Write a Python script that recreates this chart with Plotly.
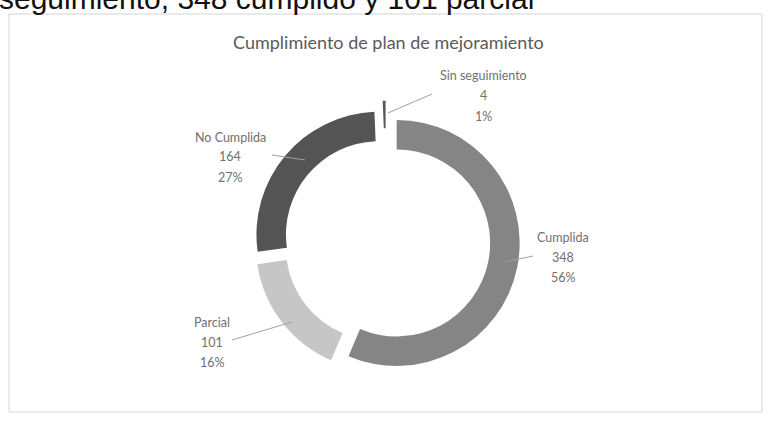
import plotly.graph_objects as go

# Data
categories = ["Cumplida", "Parcial", "No Cumplida", "Sin seguimiento"]
values = [348, 101, 164, 4]
colors = ["#858585", "#c6c6c6", "#545454", "#5a5a5a"]
pulls = [0.08, 0.08, 0.08, 0.15]
title_text = "Cumplimiento de plan de mejoramiento"
page_text = "seguimiento, 348 cumplido y 101 parcial"

W, H = 768, 424
total = sum(values)
pcts = [f"{round(v * 100 / total)}%" for v in values]


def px(x):
    return x / W


def py(y):
    return 1 - y / H


# pie geometry (pixels)
cx, cy, r = 387, 241, 123
half = r * (1 + max(pulls))

fig = go.Figure(go.Pie(
    labels=categories,
    values=values,
    sort=False,
    direction="clockwise",
    rotation=0,
    hole=0.76,
    pull=pulls,
    marker=dict(colors=colors, line=dict(color="white", width=[0, 0, 0, 2])),
    textinfo="none",
    hoverinfo="label+value+percent",
    showlegend=False,
    domain=dict(x=[px(cx - half), px(cx + half)], y=[py(cy + half), py(cy - half)]),
))

annotations = []
# cut-off body text from the scanned page above the chart
annotations.append(dict(
    text=page_text,
    x=px(-3), y=py(17), xref="paper", yref="paper", xanchor="left", yanchor="bottom",
    showarrow=False, font=dict(family="Liberation Sans, Arial", size=30, color="#111111"),
))
# title
annotations.append(dict(
    text=title_text, x=px(388), y=py(42), xref="paper", yref="paper",
    xanchor="center", yanchor="middle", showarrow=False,
    font=dict(family="Lato, Open Sans", size=18, color="#5a5a5a"),
))

label_pos = {
    "Cumplida": (563, 237),
    "Parcial": (212, 322),
    "No Cumplida": (230, 137),
    "Sin seguimiento": (483, 76),
}
for cat, val, pct in zip(categories, values, pcts):
    lx, ly = label_pos[cat]
    for i, line in enumerate([cat, str(val), pct]):
        annotations.append(dict(
            text=line, x=px(lx), y=py(ly + i * 20), xref="paper", yref="paper",
            xanchor="center", yanchor="middle", showarrow=False,
            font=dict(family="Lato, Open Sans", size=12.5, color="#707070"),
        ))

leaders = [
    (505, 262, 533, 256),
    (232, 340, 292, 322),
    (272, 155, 305, 160),
    (388, 113, 432, 94),
]
shapes = [dict(type="rect", xref="paper", yref="paper",
               x0=px(9), x1=px(762), y0=py(412), y1=py(14),
               line=dict(color="#d4d4d4", width=1))]
for x0, y0, x1, y1 in leaders:
    shapes.append(dict(type="line", xref="paper", yref="paper",
                       x0=px(x0), y0=py(y0), x1=px(x1), y1=py(y1),
                       line=dict(color="#a0a0a0", width=1)))

fig.update_layout(
    width=W, height=H,
    margin=dict(l=0, r=0, t=0, b=0),
    paper_bgcolor="white", plot_bgcolor="white",
    annotations=annotations, shapes=shapes,
)

fig.write_html("out.html", config={"displayModeBar": False},
               post_script="document.body.style.margin='0';")
